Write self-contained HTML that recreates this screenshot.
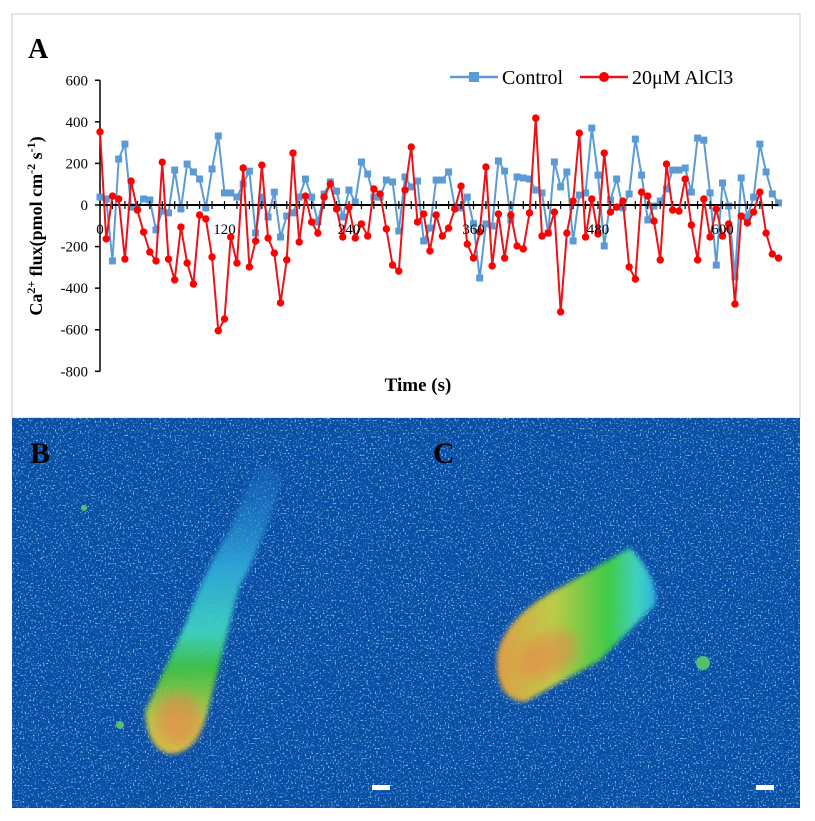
<!DOCTYPE html>
<html><head><meta charset="utf-8"><style>
body{margin:0;width:815px;height:821px;background:#fff;overflow:hidden;font-family:"Liberation Serif",serif;}
svg{position:absolute;left:0;top:0}
</style></head><body>
<svg id="fig" width="815" height="821">
<defs>
<filter id="speck" x="0" y="0" width="100%" height="100%">
<feTurbulence type="fractalNoise" baseFrequency="0.6" numOctaves="1" seed="3" result="n"/>
<feColorMatrix in="n" type="matrix" values="0 0 0 0 0.25  0 0 0 0 0.7  0 0 0 0 0.95  0 0 0 7 -4.1"/>
</filter>
<filter id="blur3"><feGaussianBlur stdDeviation="6"/></filter>
<filter id="soft"><feGaussianBlur stdDeviation="2.5"/></filter>
<linearGradient id="gB" x1="0" y1="1" x2="0" y2="0">
<stop offset="0" stop-color="#e8c040"/><stop offset="0.12" stop-color="#c8d040"/><stop offset="0.3" stop-color="#40c840"/><stop offset="0.42" stop-color="#40d8c0"/><stop offset="0.65" stop-color="#2fa8d8"/><stop offset="1" stop-color="#1d70c8" stop-opacity="0.3"/></linearGradient>
<linearGradient id="gC" x1="0" y1="0" x2="1" y2="0">
<stop offset="0" stop-color="#e8a040"/><stop offset="0.35" stop-color="#c8d040"/><stop offset="0.7" stop-color="#40d040"/><stop offset="0.88" stop-color="#40d8c0"/><stop offset="1" stop-color="#30b8e0"/></linearGradient>
</defs>
<rect x="12" y="14" width="788" height="404" fill="#fff" stroke="#ccc"/>
<text x="28" y="58" font-size="28" font-weight="bold">A</text>
<g id="plot"></g>
<text x="418" y="391" font-size="19" font-weight="bold" text-anchor="middle">Time (s)</text>
<text transform="translate(42,226) rotate(-90)" font-size="18" font-weight="bold" text-anchor="middle">Ca<tspan dy="-7" font-size="12">2+</tspan><tspan dy="7"> flux(pmol cm</tspan><tspan dy="-7" font-size="12">-2</tspan><tspan dy="7"> s</tspan><tspan dy="-7" font-size="12">-1</tspan><tspan dy="7">)</tspan></text>
<g>
<line x1="450" y1="77" x2="498" y2="77" stroke="#5b9bd5" stroke-width="2.5"/>
<rect x="469" y="72" width="10" height="10" fill="#5b9bd5"/>
<text x="502" y="84" font-size="20">Control</text>
<line x1="580" y1="77" x2="628" y2="77" stroke="#e8141a" stroke-width="2.5"/>
<circle cx="604" cy="77" r="5" fill="#ff0000"/>
<text x="632" y="84" font-size="20">20μM AlCl3</text>
</g>
<g>
<rect x="12" y="418" width="788" height="390" fill="#0b4ea6"/>
<rect x="12" y="418" width="788" height="390" filter="url(#speck)" opacity="0.9"/>
<g filter="url(#soft)">
<path d="M145,712 Q148,752 172,754 Q198,752 208,710 L238,590 Q262,545 282,480 Q270,455 255,470 L230,530 Q205,570 185,625 Z" fill="url(#gB)" opacity="0.92"/>
<ellipse cx="178" cy="718" rx="22" ry="25" fill="#f07a50" opacity="0.55" filter="url(#blur3)"/>
</g>
<g filter="url(#soft)">
<path d="M497,655 Q495,700 525,702 L600,660 L655,605 Q660,580 630,548 L565,585 Q505,615 497,655 Z" fill="url(#gC)" opacity="0.95"/>
<ellipse cx="548" cy="655" rx="32" ry="20" fill="#f07a50" opacity="0.5" filter="url(#blur3)" transform="rotate(-30 548 655)"/>
</g>
<circle cx="703" cy="663" r="7" fill="#50c070"/>
<circle cx="120" cy="725" r="4" fill="#50c070"/>
<circle cx="84" cy="508" r="3" fill="#50c070"/>
<text x="30" y="463" font-size="30" font-weight="bold">B</text>
<text x="433" y="463" font-size="30" font-weight="bold">C</text>
<rect x="372" y="785" width="18" height="5" fill="#fff"/>
<rect x="756" y="785" width="18" height="5" fill="#fff"/>
</g>
</svg>
<script>
const control=[38,29,-269,221,293,-10,-14,29,24,-120,-29,-38,168,-19,197,159,125,-14,173,332,58,58,38,101,163,-135,38,-58,62,-154,-53,-38,38,125,38,-82,53,111,67,-58,72,14,207,149,38,38,120,111,-125,135,87,115,-173,-111,120,120,159,
-10,-14,38,-90,-351,-91,-101,212,163,-72,135,130,125,72,58,-135,207,87,159,-173,48,58,370,144,-197,24,125,-14,53,317,144,-72,-5,19,77,168,168,178,62,322,312,58,-289,106,-5,-346,130,-58,38,293,159,53,10];
const alcl3=[352,-163,43,29,-260,115,-24,-130,-226,-269,206,-260,-360,-106,-279,-380,-48,-67,-250,-605,-548,-154,-279,178,-298,-173,192,-159,-231,-471,-264,250,-178,43,-82,-135,38,101,-19,-154,-10,-159,-91,-149,77,53,-115,-289,-318,72,279,-82,-43,-221,-48,-149,-111,
-19,91,-188,-255,-130,183,-293,-43,-255,-48,-197,-211,-38,418,-149,-135,-34,-514,-135,19,346,-154,29,-139,250,-34,-10,19,-298,-356,62,43,-77,-264,197,-24,-29,125,-96,-264,29,-154,-19,-149,-91,-476,-53,-86,-34,62,-135,-236,-255];
const yTicks=[600,400,200,0,-200,-400,-600,-800];
const xLabels=[0,120,240,360,480,600];
const step=6;
const NS="http://www.w3.org/2000/svg";
const g=document.getElementById('plot');
const X=t=>100+t*1.0375, Y=v=>205-v*0.2079;
function mk(tag,a){const e=document.createElementNS(NS,tag);for(const k in a)e.setAttribute(k,a[k]);g.appendChild(e);return e;}
const ya=mk('line',{x1:100,y1:Y(600),x2:100,y2:Y(-800),stroke:'#000','stroke-width':1.5});


yTicks.forEach(v=>{
 const t=mk('line',{x1:95,y1:Y(v),x2:100,y2:Y(v),stroke:'#000','stroke-width':1.5});
 
 
 const l=mk('text',{x:88,y:Y(v)+5,'font-size':15,'text-anchor':'end'});l.textContent=v;
 
 
});
function series(data,color,sq,name){
 const pts=data.map((v,i)=>X(i*step)+','+Y(v)).join(' ');
 const p=mk('polyline',{points:pts,fill:'none',stroke:color,'stroke-width':2});
 
 
 data.forEach((v,i)=>{
  const m=sq?mk('rect',{x:X(i*step)-3.5,y:Y(v)-3.5,width:7,height:7,fill:color}):mk('circle',{cx:X(i*step),cy:Y(v),r:3.7,fill:'#ff0000'});
  
  
 });
}
series(control,'#5b9bd5',true,'control');
const xa=mk('line',{x1:100,y1:205,x2:X(654),y2:205,stroke:'#000','stroke-width':2});


for(let t=0;t<=648;t+=12){
 const k=mk('line',{x1:X(t),y1:201,x2:X(t),y2:209,stroke:'#000','stroke-width':1.2});
 
 
}
series(alcl3,'#e8141a',false,'alcl3');
xLabels.forEach(t=>{
 const l=mk('text',{x:X(t),y:234,'font-size':15,'text-anchor':'middle'});l.textContent=t;
 
 
});
</script>
</body></html>
